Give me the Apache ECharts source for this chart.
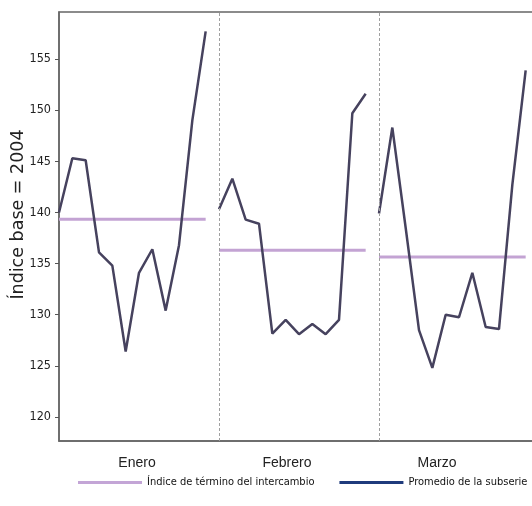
<!DOCTYPE html>
<html>
<head>
<meta charset="utf-8">
<script src="https://cdn.jsdelivr.net/npm/echarts@6/dist/echarts.min.js"></script>
<style>
    html, body { margin: 0; padding: 0; background: #fff; }
    #chart { width: 532px; height: 506px; }
</style>
</head>
<body>
<div id="chart"></div>
<script>
    // meses (subseries) y valores
    var months = ['Enero', 'Febrero', 'Marzo'];
    var enero = [140.0, 145.3, 145.1, 136.1, 134.8, 126.4, 134.1, 136.4, 130.4, 136.8, 149.0, 157.7];
    var febrero = [140.3, 143.3, 139.3, 138.9, 128.15, 129.5, 128.1, 129.1, 128.1, 129.5, 149.7, 151.6];
    var marzo = [139.9, 148.3, 138.5, 128.5, 124.8, 130.0, 129.75, 134.1, 128.8, 128.6, 142.7, 153.9];
    var yTicks = [120, 125, 130, 135, 140, 145, 150, 155];
    var monthLabelPos = [5.85, 17.1, 28.35];

    var subseries = [enero, febrero, marzo];
    var nYears = 12;

    var chart = echarts.init(document.getElementById('chart'));

    var series = [];
    subseries.forEach(function (vals, m) {
        var offset = m * nYears;
        var pts = vals.map(function (v, i) { return [offset + i, v]; });
        var mean = vals.reduce(function (a, b) { return a + b; }, 0) / vals.length;
        var s = {
            name: 'Índice de término del intercambio',
            type: 'line',
            data: pts,
            showSymbol: false,
            lineStyle: { color: '#46425e', width: 2.5 },
            itemStyle: { color: '#46425e' },
            z: 3
        };
        if (m === 0) {
            // separadores entre meses
            s.markLine = {
                silent: true,
                symbol: ['none', 'none'],
                label: { show: false },
                lineStyle: { color: '#a0a0a0', type: [3, 2], width: 1 },
                data: [{ xAxis: nYears }, { xAxis: 2 * nYears }]
            };
        }
        series.push(s);
        series.push({
            name: 'Promedio de la subserie',
            type: 'line',
            data: [[offset, mean], [offset + nYears - 1, mean]],
            showSymbol: false,
            lineStyle: { color: '#c3a3d3', width: 3 },
            itemStyle: { color: '#c3a3d3' },
            z: 2
        });
    });

    chart.setOption({
        animation: false,
        grid: {
            left: 59, top: 12, right: -7, bottom: 65,
            containLabel: false,
            outerBoundsMode: 'none',
            show: true, borderColor: '#666', borderWidth: 1.5
        },
        legend: {
            left: 78, top: 477,
            width: 480,
            padding: 0,
            icon: 'rect',
            itemWidth: 64, itemHeight: 3,
            itemGap: 25,
            textStyle: { fontFamily: 'DejaVu Sans Condensed, sans-serif', fontSize: 11, color: '#111' },
            data: [
                { name: 'Índice de término del intercambio', itemStyle: { color: '#c3a5d6' } },
                { name: 'Promedio de la subserie', itemStyle: { color: '#1f3b7c' } }
            ]
        },
        xAxis: {
            type: 'value',
            min: 0,
            max: 3 * nYears,
            splitLine: { show: false },
            axisLine: { show: true, lineStyle: { color: '#666', width: 1.5 } },
            axisTick: { show: false },
            axisLabel: {
                customValues: monthLabelPos,
                formatter: function (v) {
                    var idx = monthLabelPos.indexOf(v);
                    return idx >= 0 ? months[idx] : '';
                },
                margin: 15,
                fontFamily: 'Liberation Sans, Arial, sans-serif',
                fontSize: 14,
                color: '#222'
            }
        },
        yAxis: {
            type: 'value',
            min: 117.65,
            max: 159.6,
            name: 'Índice base = 2004',
            nameLocation: 'middle',
            nameGap: 32,
            nameMoveOverlap: false,
            nameTextStyle: { fontFamily: 'DejaVu Sans', fontSize: 17.5, color: '#222', padding: [0, 0, 0, 24] },
            splitLine: { show: false },
            axisLine: { show: true, lineStyle: { color: '#666', width: 1.5 } },
            axisTick: { show: true, customValues: yTicks, length: 4, lineStyle: { color: '#555' } },
            axisLabel: {
                customValues: yTicks,
                margin: 8,
                fontFamily: 'DejaVu Sans Condensed, DejaVu Sans',
                fontSize: 12.5,
                color: '#222'
            }
        },
        series: series
    });
</script>
</body>
</html>
